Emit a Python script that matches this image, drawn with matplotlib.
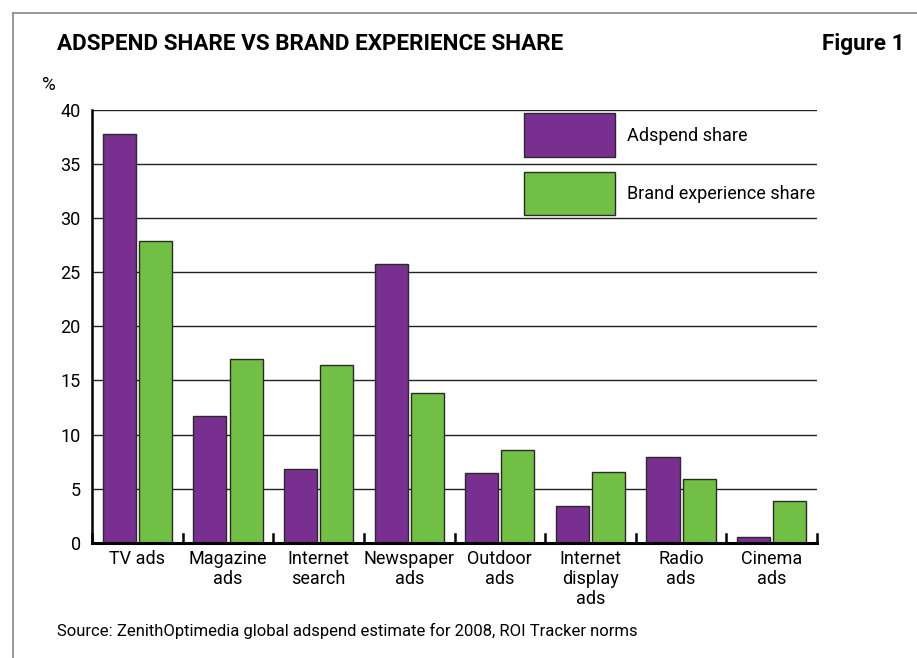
import matplotlib
matplotlib.use("Agg")
import matplotlib.pyplot as plt
from matplotlib.patches import Rectangle
import numpy as np

plt.rcParams["font.family"] = ["Roboto", "DejaVu Sans"]

# ---- data ----
categories = ["TV ads", "Magazine\nads", "Internet\nsearch", "Newspaper\nads",
              "Outdoor\nads", "Internet\ndisplay\nads", "Radio\nads", "Cinema\nads"]
adspend = [37.8, 11.7, 6.8, 25.8, 6.4, 3.4, 7.9, 0.5]
brand_exp = [27.9, 17.0, 16.4, 13.8, 8.6, 6.5, 5.9, 3.9]
yticks = [0, 5, 10, 15, 20, 25, 30, 35, 40]

PURPLE = "#782F8F"
GREEN = "#71BF44"
EDGE = "#2a2a2a"

fig = plt.figure(figsize=(9.17, 6.58), dpi=100)
ax = fig.add_axes([0.1003, 0.1752, 0.7907, 0.6576])

x = np.arange(len(categories))
w = 0.365
ax.bar(x - 0.2, adspend, w, color=PURPLE, edgecolor=EDGE, linewidth=1.0, zorder=3)
ax.bar(x + 0.2, brand_exp, w, color=GREEN, edgecolor=EDGE, linewidth=1.0, zorder=3)

ax.set_xlim(-0.5, len(categories) - 0.5)
ax.set_ylim(0, 40)
ax.set_yticks(yticks)
ax.set_yticklabels([str(v) for v in yticks], fontsize=13)
ax.tick_params(axis="y", length=0, pad=8)

# category labels, tick marks at the group boundaries
ax.set_xticks(x)
ax.set_xticklabels(categories, fontsize=13, linespacing=1.15, va="top")
ax.tick_params(axis="x", length=0, pad=5)
for b in np.arange(-0.5, len(categories), 1.0):
    ax.plot([b, b], [0, 0.8], color="black", lw=1.8, zorder=4, clip_on=False)

ax.grid(axis="y", color="#222222", lw=1.0, zorder=0)
for s in ["top", "right"]:
    ax.spines[s].set_visible(False)
ax.spines["left"].set_linewidth(1.8)
ax.spines["bottom"].set_linewidth(2.2)
ax.spines["bottom"].set_zorder(5)

# legend boxes
ax.add_patch(Rectangle((0.596, 0.891), 0.1255, 0.102, transform=ax.transAxes,
                       facecolor=PURPLE, edgecolor=EDGE, lw=1.0, zorder=6))
ax.add_patch(Rectangle((0.596, 0.757), 0.1255, 0.100, transform=ax.transAxes,
                       facecolor=GREEN, edgecolor=EDGE, lw=1.0, zorder=6))
ax.text(0.738, 0.940, "Adspend share", transform=ax.transAxes, fontsize=13,
        va="center", ha="left", zorder=6)
ax.text(0.738, 0.806, "Brand experience share", transform=ax.transAxes, fontsize=13,
        va="center", ha="left", zorder=6)

# titles and notes
fig.text(57 / 917, 1 - 44 / 658, "ADSPEND SHARE VS BRAND EXPERIENCE SHARE",
         fontsize=16.2, fontweight="bold", va="center", ha="left")
fig.text(905 / 917, 1 - 44 / 658, "Figure 1", fontsize=16.2, fontweight="bold",
         va="center", ha="right")
fig.text(42 / 917, 1 - 85 / 658, "%", fontsize=13.5, va="center", ha="left")
fig.text(57 / 917, 1 - 631 / 658,
         "Source: ZenithOptimedia global adspend estimate for 2008, ROI Tracker norms",
         fontsize=12, va="center", ha="left")

# frame lines (left and top)
fig.add_artist(plt.Line2D([13 / 917, 13 / 917], [0, 1 - 12.7 / 658],
                          transform=fig.transFigure, color="#888888", lw=1.2))
fig.add_artist(plt.Line2D([13 / 917, 1], [1 - 12.7 / 658, 1 - 12.7 / 658],
                          transform=fig.transFigure, color="#888888", lw=1.2))

fig.savefig("out.png", dpi=100)
